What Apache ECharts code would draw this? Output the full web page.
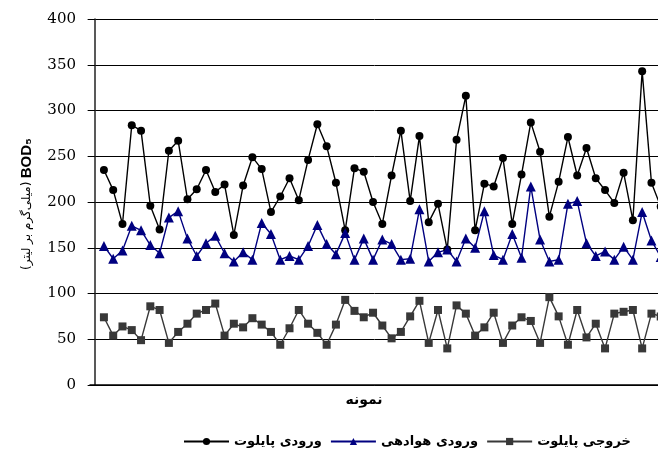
<!DOCTYPE html>
<html>
<head>
<meta charset="utf-8">
<script src="https://cdn.jsdelivr.net/npm/echarts@6/dist/echarts.min.js"></script>
<style>
  html, body { margin: 0; padding: 0; background: #fff; }
  #chart { width: 658px; height: 452px; }
</style>
</head>
<body>
<div id="chart"></div>
<script>
// BOD5 (mg/L) per sample for the three sampling points
const pilotInlet = [
  235, 213, 176, 284, 278, 196, 170, 256, 267, 203,
  214, 235, 211, 219, 164, 218, 249, 236, 189, 206,
  226, 202, 246, 285, 261, 221, 169, 237, 233, 200,
  176, 229, 278, 201, 272, 178, 198, 148, 268, 316,
  169, 220, 217, 248, 176, 230, 287, 255, 184, 222,
  271, 229, 259, 226, 213, 199, 232, 180, 343, 221,
  195
];
const aerationInlet = [
  152, 138, 147, 174, 169, 153, 144, 183, 190, 160,
  141, 155, 163, 144, 135, 145, 137, 177, 165, 137,
  141, 137, 152, 175, 154, 143, 166, 137, 160, 137,
  159, 154, 137, 138, 192, 135, 145, 148, 135, 160,
  150, 190, 142, 137, 165, 139, 217, 159, 135, 137,
  198, 201, 155, 141, 146, 137, 151, 137, 189, 158,
  140
];
const pilotOutlet = [
  74, 54, 64, 60, 49, 86, 82, 46, 58, 67,
  78, 82, 89, 54, 67, 63, 73, 66, 58, 44,
  62, 82, 67, 57, 44, 66, 93, 81, 74, 79,
  65, 51, 58, 75, 92, 46, 82, 40, 87, 78,
  54, 63, 79, 46, 65, 74, 70, 46, 96, 75,
  44, 82, 52, 67, 40, 78, 80, 82, 40, 78,
  75
];
const seriesNames = ['ورودی پایلوت', 'ورودی هوادهی', 'خروجی پایلوت'];
const yTicks = [0, 50, 100, 150, 200, 250, 300, 350, 400];

// sample numbers 1..n along the horizontal axis
const sampleNo = pilotInlet.map((_, i) => i + 1);
const pairs = vals => vals.map((v, i) => [sampleNo[i], v]);

const chart = echarts.init(document.getElementById('chart'), null, { renderer: 'canvas' });

chart.setOption({
  animation: false,
  backgroundColor: '#ffffff',
  grid: {
    left: 90, top: 19, height: 366, width: 580,
    containLabel: false, outerBoundsMode: 'none'
  },
  xAxis: {
    type: 'value',
    min: -0.5, max: 62,
    name: 'نمونه',
    nameLocation: 'middle',
    nameGap: 8,
    nameTextStyle: {
      fontFamily: 'DejaVu Sans', fontWeight: 'bold', fontSize: 14, color: '#000',
      padding: [0, 32, 0, 0], verticalAlign: 'top'
    },
    axisLine: { show: true, lineStyle: { color: '#000', width: 1.5 } },
    axisTick: { show: false },
    axisLabel: { show: false },
    splitLine: { show: false }
  },
  yAxis: {
    type: 'value',
    min: yTicks[0], max: yTicks[yTicks.length - 1], interval: 50,
    name: '{p|(میلی‌گرم بر لیتر)} {b|BOD₅}',
    nameLocation: 'middle',
    nameRotate: 90,
    nameGap: 56,
    nameTextStyle: {
      padding: [0, 4, 0, 0],
      rich: {
        p: { fontFamily: 'DejaVu Sans', fontSize: 12, color: '#000' },
        b: { fontFamily: 'Liberation Sans', fontWeight: 'bold', fontSize: 15, color: '#000' }
      }
    },
    axisLine: { show: true, lineStyle: { color: '#222', width: 1.5 } },
    axisTick: { show: true, length: 7, lineStyle: { color: '#000', width: 1 } },
    axisLabel: {
      color: '#000', fontFamily: 'DejaVu Serif', fontSize: 15, margin: 14,
      padding: [0, 0, 7, 0],
      formatter: v => (yTicks.includes(v) ? String(v) : '')
    },
    splitLine: { show: true, lineStyle: { color: '#000', width: 1 } }
  },
  legend: {
    left: 178, top: 430,
    itemWidth: 45, itemHeight: 9, itemGap: 8,
    textStyle: { fontFamily: 'DejaVu Sans', fontWeight: 'bold', fontSize: 13, color: '#000' },
    data: seriesNames
  },
  series: [
    {
      name: seriesNames[0], type: 'line', data: pairs(pilotInlet),
      symbol: 'circle', symbolSize: 8,
      lineStyle: { color: '#000', width: 1.4 },
      itemStyle: { color: '#000' }
    },
    {
      name: seriesNames[1], type: 'line', data: pairs(aerationInlet),
      symbol: 'triangle', symbolSize: 10,
      lineStyle: { color: '#000080', width: 1.4 },
      itemStyle: { color: '#000080' }
    },
    {
      name: seriesNames[2], type: 'line', data: pairs(pilotOutlet),
      symbol: 'rect', symbolSize: 8,
      lineStyle: { color: '#383838', width: 1.4 },
      itemStyle: { color: '#383838' }
    }
  ]
});
</script>
</body>
</html>
